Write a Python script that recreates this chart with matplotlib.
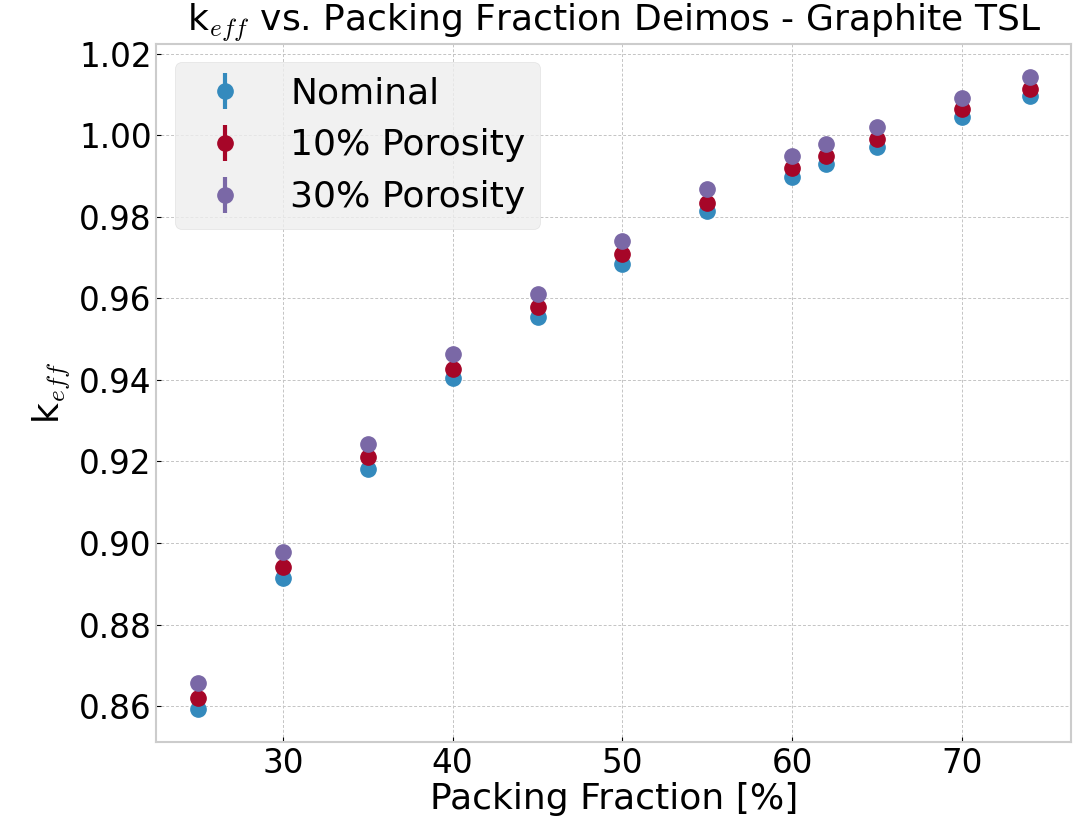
import matplotlib
matplotlib.use('Agg')
import matplotlib.pyplot as plt

plt.style.use('bmh')

# 填充率 (%)
packing = [25, 30, 35, 40, 45, 50, 55, 60, 62, 65, 70, 74]

# k_eff 數值
k_nominal = [0.8593, 0.8915, 0.9182, 0.9404, 0.9554, 0.9684, 0.9814, 0.9898, 0.9930, 0.9972, 1.0045, 1.0097]
k_por10 = [0.8620, 0.8942, 0.9210, 0.9428, 0.9578, 0.9709, 0.9834, 0.9920, 0.9950, 0.9991, 1.0065, 1.0114]
k_por30 = [0.8657, 0.8979, 0.9244, 0.9463, 0.9610, 0.9741, 0.9868, 0.9950, 0.9979, 1.0021, 1.0092, 1.0144]
k_err = [0.0003] * len(packing)

fig, ax = plt.subplots(figsize=(10.79, 8.27), dpi=100)
ax.set_facecolor('white')
for s in ax.spines.values():
    s.set_color('#cccccc')
    s.set_linewidth(1.5)

ax.errorbar(packing, k_nominal, yerr=k_err, fmt='o', color='#348ABD', markersize=11, elinewidth=3, label='Nominal')
ax.errorbar(packing, k_por10, yerr=k_err, fmt='o', color='#A60628', markersize=11, elinewidth=3, label='10% Porosity')
ax.errorbar(packing, k_por30, yerr=k_err, fmt='o', color='#7A68A6', markersize=11, elinewidth=3, label='30% Porosity')

ax.grid(True, linestyle=(0, (3, 2)), color='#c4c4c4', linewidth=0.7)
ax.set_yticks([0.86, 0.88, 0.90, 0.92, 0.94, 0.96, 0.98, 1.00, 1.02])
ax.set_xticks([30, 40, 50, 60, 70])
ax.tick_params(labelsize=23.5)
ax.set_xlabel('Packing Fraction [%]', fontsize=26, labelpad=2)
ax.set_ylabel(r'k$_{eff}$', fontsize=26)
ax.set_title(r'k$_{eff}$ vs. Packing Fraction Deimos - Graphite TSL', fontsize=26, pad=4)

leg = ax.legend(fontsize=26, loc='upper left', frameon=True, facecolor='#eeeeee',
                edgecolor='#dddddd', handletextpad=0.8)

plt.subplots_adjust(left=0.145, right=0.993, top=0.947, bottom=0.103)
plt.savefig('out.png', dpi=100)
